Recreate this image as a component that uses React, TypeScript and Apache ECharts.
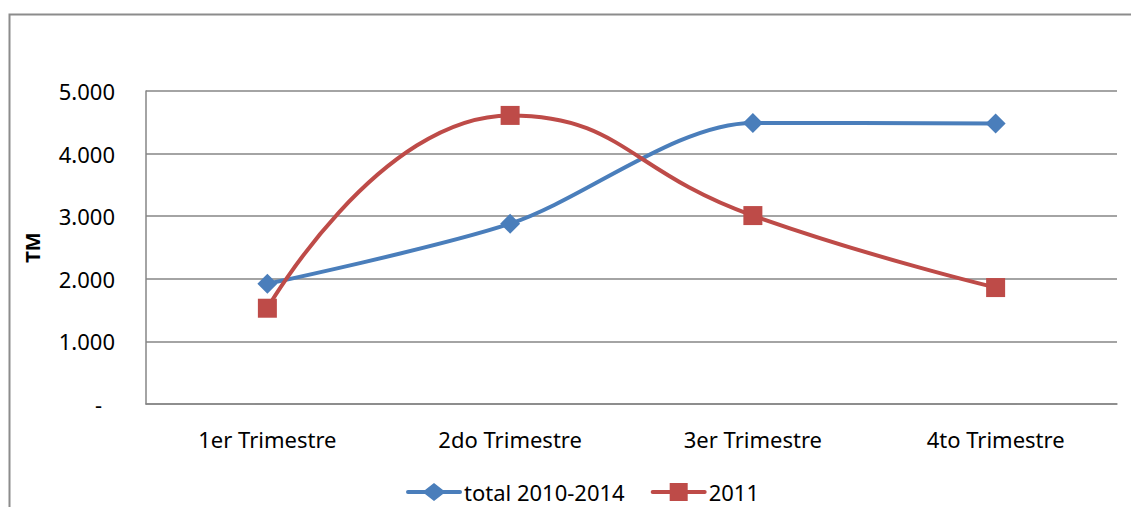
import React, { useEffect, useRef } from "react";
import * as echarts from "echarts";

const categories = ["1er Trimestre", "2do Trimestre", "3er Trimestre", "4to Trimestre"];
const totalSeries = [1920, 2880, 4490, 4480];
const series2011 = [1530, 4610, 3010, 1860];
const yTicks = [0, 1000, 2000, 3000, 4000, 5000];
const seriesNames = ["total 2010-2014", "2011"];

const FONT = "Noto Sans";

const ICON_DIAMOND = "path://M2,7 H19 L28,0 L37,7 H54 A2,2 0 0 1 54,11 H37 L28,18 L19,11 H2 A2,2 0 0 1 2,7 Z";
const ICON_SQUARE = "path://M2,7 H19 V0 H37 V7 H54 A2,2 0 0 1 54,11 H37 V18 H19 V11 H2 A2,2 0 0 1 2,7 Z";

export default function App() {
  const ref = useRef<HTMLDivElement>(null);
  useEffect(() => {
    if (!ref.current) return;
    const chart = echarts.init(ref.current, null, { renderer: "svg" });
    chart.setOption({
      animation: false,
      backgroundColor: "#ffffff",
      graphic: [
        {
          type: "rect",
          shape: { x: 9.5, y: 14.5, width: 1200, height: 600 },
          style: { fill: "none", stroke: "#8c8c8c", lineWidth: 2 },
          silent: true,
        },
      ],
      grid: { left: 146, right: 14, top: 91, bottom: 103 },
      legend: {
        left: 401,
        top: 476,
        itemWidth: 56,
        itemHeight: 18,
        itemGap: 26,
        itemStyle: { borderWidth: 0 },
        textStyle: { fontFamily: FONT, fontSize: 22, color: "#000", padding: [0, 0, 0, -3] },
        data: [
          { name: seriesNames[0], icon: ICON_DIAMOND },
          { name: seriesNames[1], icon: ICON_SQUARE },
        ],
      },
      xAxis: {
        type: "category",
        data: categories,
        boundaryGap: true,
        axisLine: { lineStyle: { color: "#868686", width: 1.5 } },
        axisTick: { show: false },
        axisLabel: { fontFamily: FONT, fontSize: 22, color: "#000", margin: 24 },
      },
      yAxis: {
        type: "value",
        min: 0,
        max: 5000,
        interval: 1000,
        name: "TM",
        nameLocation: "middle",
        nameRotate: 90,
        nameGap: 104,
        nameTextStyle: { fontFamily: FONT, fontSize: 20, fontWeight: "bold", color: "#000" },
        axisLine: { show: true, lineStyle: { color: "#868686", width: 1.5 } },
        axisTick: { show: false },
        splitLine: { lineStyle: { color: "#868686", width: 1.5 } },
        axisLabel: {
          fontFamily: FONT,
          fontSize: 22,
          color: "#000",
          margin: 31,
          formatter: (v: number) => {
            if (!yTicks.includes(v)) return "";
            if (v === 0) return "{d|-}";
            return (v / 1000).toFixed(3);
          },
          rich: {
            d: { fontFamily: FONT, fontSize: 22, color: "#000", padding: [0, 13, 0, 0] },
          },
        },
      },
      series: [
        {
          name: seriesNames[0],
          type: "line",
          data: totalSeries,
          smooth: 0.3,
          symbol: "diamond",
          symbolSize: 20,
          lineStyle: { color: "#4a7ebb", width: 4 },
          itemStyle: { color: "#4a7ebb" },
        },
        {
          name: seriesNames[1],
          type: "line",
          data: series2011,
          smooth: 0.5,
          symbol: "rect",
          symbolSize: 19,
          lineStyle: { color: "#be4b48", width: 4 },
          itemStyle: { color: "#be4b48" },
        },
      ],
    });
    return () => chart.dispose();
  }, []);
  return (
    <div
      ref={ref}
      style={{ position: "fixed", left: 0, top: 0, width: 1131, height: 507 }}
    />
  );
}
